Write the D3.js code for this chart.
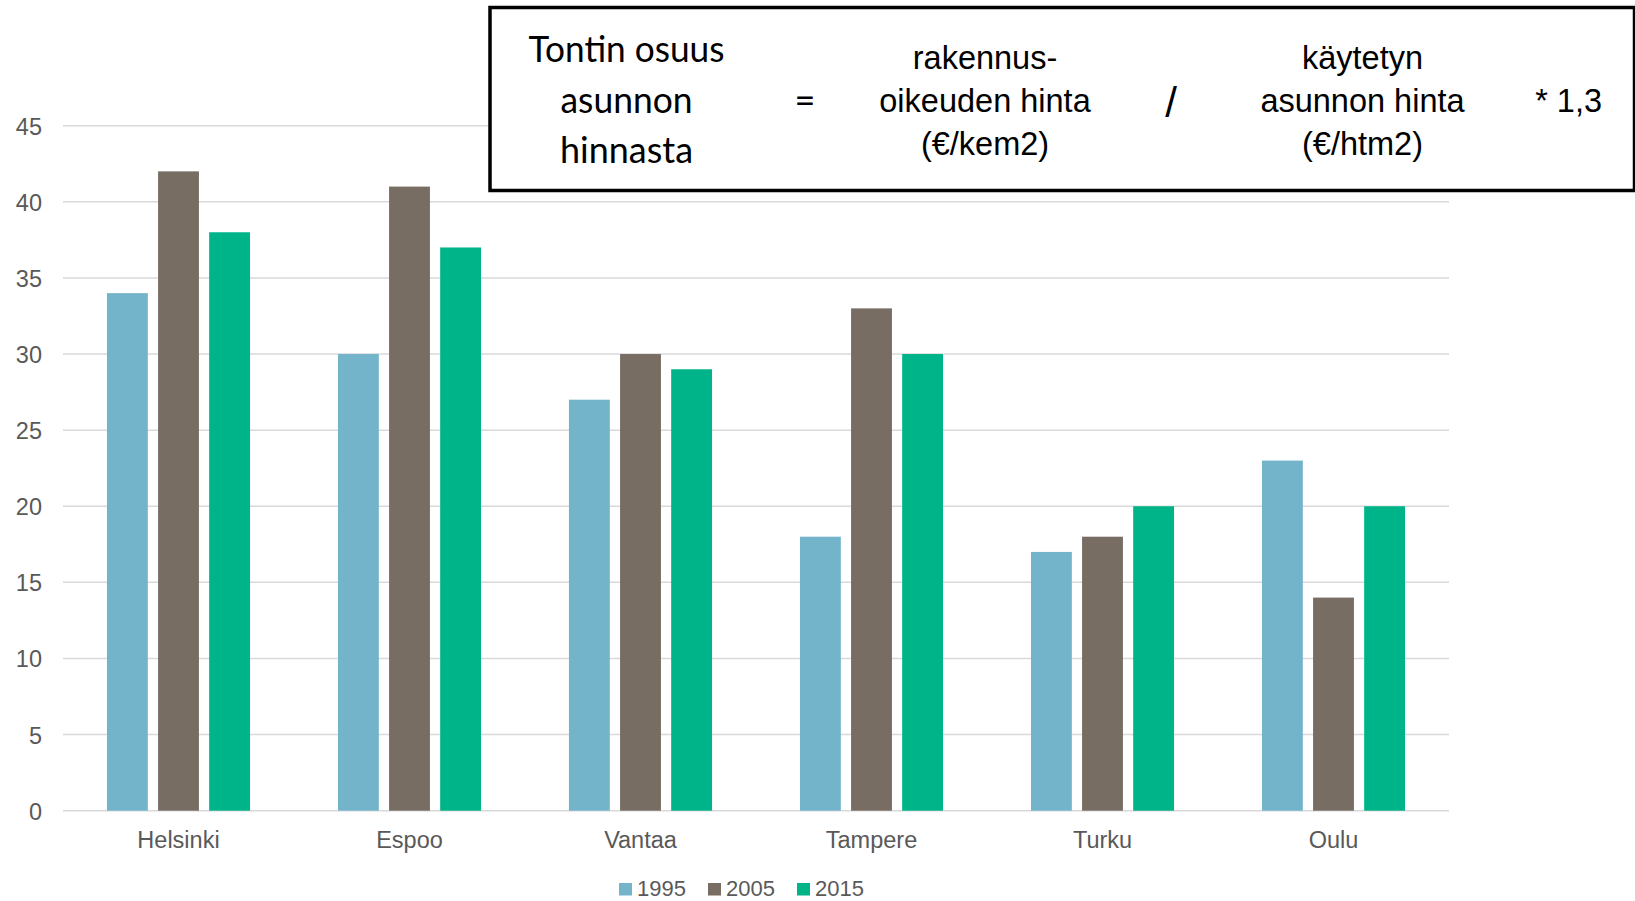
<!DOCTYPE html>
<html>
<head>
<meta charset="utf-8">
<script src="https://cdn.jsdelivr.net/npm/d3@7"></script>
<style>
  html, body { margin: 0; padding: 0; background: #fff; }
  svg { display: block; }
</style>
</head>
<body>
<svg id="chart" width="1635" height="901"></svg>
<script>
// Cities on the x axis
const cities = ["Helsinki", "Espoo", "Vantaa", "Tampere", "Turku", "Oulu"];
// Survey years (series)
const years = ["1995", "2005", "2015"];
// Land share of dwelling price, % — one array per year, in city order
const values1995 = [34, 30, 27, 18, 17, 23];
const values2005 = [42, 41, 30, 33, 18, 14];
const values2015 = [38, 37, 29, 30, 20, 20];
// Y axis ticks
const yTicks = [0, 5, 10, 15, 20, 25, 30, 35, 40, 45];
// Series colours
const yearColors = ["#73b4cb", "#776d63", "#00b489"];

// Formula text in the box
const lhsLines = ["Tontin osuus", "asunnon", "hinnasta"];
const numeratorLines = ["rakennus-", "oikeuden hinta", "(€/kem2)"];
const denominatorLines = ["käytetyn", "asunnon hinta", "(€/htm2)"];

const seriesValues = [values1995, values2005, values2015];
const rows = cities.map((c, i) => ({
  city: c,
  bars: years.map((y, j) => ({ year: y, value: seriesValues[j][i], color: yearColors[j] }))
}));

const svg = d3.select("#chart");

const plotLeft = 63, plotRight = 1449, plotTop = 125.7, plotBottom = 810.7;

const x0 = d3.scaleBand().domain(cities).range([plotLeft, plotRight]).paddingInner(0).paddingOuter(0);
const x1 = d3.scaleBand().domain(years).range([0, x0.bandwidth()]).paddingInner(0.2).paddingOuter(0.86);
const y = d3.scaleLinear().domain([0, 45]).range([plotBottom, plotTop]);

// Horizontal gridlines
svg.append("g")
  .selectAll("line")
  .data(yTicks)
  .join("line")
  .attr("x1", plotLeft)
  .attr("x2", plotRight)
  .attr("y1", d => y(d))
  .attr("y2", d => y(d))
  .attr("stroke", "#d9d9d9")
  .attr("stroke-width", 1.5);

// Y axis labels
const yAxis = d3.axisLeft(y).tickValues(yTicks).tickSize(0).tickPadding(0);
svg.append("g")
  .attr("transform", `translate(${42},0)`)
  .call(yAxis)
  .call(g => g.select(".domain").remove())
  .call(g => g.selectAll("text")
    .attr("fill", "#595959")
    .attr("font-family", "'Liberation Sans', Arial, sans-serif")
    .attr("font-size", 23.5)
    .attr("dy", "0.36em"));

// Bars
const groups = svg.append("g")
  .selectAll("g")
  .data(rows)
  .join("g")
  .attr("transform", d => `translate(${x0(d.city)},0)`);

groups.selectAll("rect")
  .data(d => d.bars)
  .join("rect")
  .attr("x", d => x1(d.year))
  .attr("width", x1.bandwidth())
  .attr("y", d => y(d.value))
  .attr("height", d => y(0) - y(d.value))
  .attr("fill", d => d.color);

// X axis category labels
const xAxis = d3.axisBottom(x0).tickSize(0).tickPadding(0);
svg.append("g")
  .attr("transform", `translate(0,${plotBottom})`)
  .call(xAxis)
  .call(g => g.select(".domain").remove())
  .call(g => g.selectAll("text")
    .attr("fill", "#595959")
    .attr("font-family", "'Liberation Sans', Arial, sans-serif")
    .attr("font-size", 23.5)
    .attr("y", 37.5)
    .attr("dy", 0));

// Legend
const legend = svg.append("g").attr("transform", "translate(619,0)");
const legendItems = legend.selectAll("g")
  .data(years)
  .join("g")
  .attr("transform", (d, i) => `translate(${i * 89},0)`);
legendItems.append("rect")
  .attr("x", 0).attr("y", 883)
  .attr("width", 13).attr("height", 12.5)
  .attr("fill", (d, i) => yearColors[i]);
legendItems.append("text")
  .attr("x", 18).attr("y", 896)
  .attr("fill", "#595959")
  .attr("font-family", "'Liberation Sans', Arial, sans-serif")
  .attr("font-size", 22)
  .text(d => d);

// Formula box
const box = svg.append("g");
box.append("rect")
  .attr("x", 490).attr("y", 7.5)
  .attr("width", 1144.5).attr("height", 183)
  .attr("fill", "#fff")
  .attr("stroke", "#000")
  .attr("stroke-width", 3.5);

const lhsWidths = [196, 132, 133];
box.append("g").selectAll("text")
  .data(lhsLines)
  .join("text")
  .attr("x", 626.5)
  .attr("y", (d, i) => [61.7, 113, 163][i])
  .attr("text-anchor", "middle")
  .attr("font-family", "Lato, 'Open Sans', sans-serif")
  .attr("font-size", 36)
  .attr("fill", "#000")
  .attr("textLength", (d, i) => lhsWidths[i])
  .attr("lengthAdjust", "spacingAndGlyphs")
  .text(d => d);

box.append("text")
  .attr("x", 805).attr("y", 113)
  .attr("text-anchor", "middle")
  .attr("font-family", "Lato, 'Open Sans', sans-serif")
  .attr("font-size", 36)
  .text("=");

const colBaselines = [69, 112, 155];
const arial = "'Liberation Sans', Arial, sans-serif";
[[numeratorLines, 985], [denominatorLines, 1362.5]].forEach(([lines, cx]) => {
  box.append("g").selectAll("text")
    .data(lines)
    .join("text")
    .attr("x", cx)
    .attr("y", (d, i) => colBaselines[i])
    .attr("text-anchor", "middle")
    .attr("font-family", arial)
    .attr("font-size", 32.5)
    .attr("fill", "#000")
    .text(d => d);
});

box.append("text")
  .attr("x", 1171).attr("y", 116.5)
  .attr("text-anchor", "middle")
  .attr("font-family", arial)
  .attr("font-size", 42)
  .text("/");

box.append("text")
  .attr("x", 1602).attr("y", 112)
  .attr("text-anchor", "end")
  .attr("font-family", arial)
  .attr("font-size", 32.5)
  .text("* 1,3");
</script>
</body>
</html>
